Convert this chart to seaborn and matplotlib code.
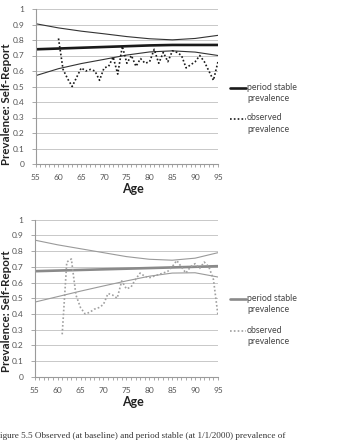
import pandas as pd
import matplotlib.pyplot as plt
import seaborn as sns
from matplotlib.lines import Line2D
from matplotlib.ticker import MultipleLocator

# ages at which the period stable line and its bounds were read
ci_ages = [55, 60, 65, 70, 75, 80, 85, 90, 95]

# top panel
top_stable = [0.740, 0.745, 0.750, 0.755, 0.760, 0.765, 0.768, 0.768, 0.768]
top_upper = [0.905, 0.878, 0.857, 0.840, 0.822, 0.808, 0.801, 0.810, 0.830]
top_lower = [0.570, 0.615, 0.648, 0.675, 0.703, 0.723, 0.730, 0.722, 0.700]
top_obs_ages = list(range(60, 96))
top_obs = [0.81, 0.61, 0.55, 0.50, 0.56, 0.62, 0.60, 0.61, 0.60, 0.54,
           0.62, 0.63, 0.69, 0.58, 0.76, 0.65, 0.70, 0.63, 0.68, 0.65,
           0.66, 0.74, 0.65, 0.72, 0.66, 0.73, 0.72, 0.70, 0.62, 0.64,
           0.66, 0.70, 0.66, 0.60, 0.54, 0.66]

# bottom panel
bot_stable = [0.672, 0.676, 0.680, 0.684, 0.688, 0.692, 0.696, 0.700, 0.704]
bot_upper = [0.870, 0.840, 0.815, 0.790, 0.765, 0.748, 0.742, 0.755, 0.790]
bot_lower = [0.475, 0.510, 0.545, 0.578, 0.610, 0.640, 0.660, 0.662, 0.635]
bot_obs_ages = list(range(61, 96))
bot_obs = [0.27, 0.73, 0.75, 0.52, 0.44, 0.40, 0.41, 0.43, 0.44, 0.46,
           0.53, 0.52, 0.50, 0.61, 0.56, 0.57, 0.62, 0.66, 0.64, 0.63,
           0.64, 0.65, 0.66, 0.67, 0.70, 0.74, 0.70, 0.66, 0.70, 0.72,
           0.69, 0.73, 0.70, 0.62, 0.39]

y_ticks = [0, 0.1, 0.2, 0.3, 0.4, 0.5, 0.6, 0.7, 0.8, 0.9, 1]
y_labels = ["0", "0.1", "0.2", "0.3", "0.4", "0.5", "0.6", "0.7", "0.8", "0.9", "1"]
x_ticks = [55, 60, 65, 70, 75, 80, 85, 90, 95]

sns.set_theme(style="white")
plt.rcParams['font.family'] = ['Lato', 'DejaVu Sans']

W, H = 347, 441
fig = plt.figure(figsize=(W / 100, H / 100), dpi=100)
ax1 = fig.add_axes([35.7 / W, 1 - 164 / H, (218 - 35.7) / W, 155 / H])
ax2 = fig.add_axes([34.7 / W, 1 - 376.7 / H, (218 - 34.7) / W, 157 / H])


def draw_panel(ax, stable, upper, lower, obs_ages, obs, main_col, thin_col, obs_col):
    ci = pd.DataFrame({'age': ci_ages, 'stable': stable, 'upper': upper, 'lower': lower})
    ob = pd.DataFrame({'age': obs_ages, 'obs': obs})
    sns.lineplot(data=ci, x='age', y='upper', ax=ax, color=thin_col, linewidth=0.8)
    sns.lineplot(data=ci, x='age', y='lower', ax=ax, color=thin_col, linewidth=0.8)
    sns.lineplot(data=ci, x='age', y='stable', ax=ax, color=main_col, linewidth=1.9)
    sns.lineplot(data=ob, x='age', y='obs', ax=ax, color=obs_col, linewidth=1.2,
                 linestyle=(0, (1, 1.3)))
    ax.set_xlim(55, 95)
    ax.set_ylim(0, 1)
    ax.set_yticks(y_ticks)
    ax.set_yticklabels(y_labels)
    ax.set_xticks(x_ticks)
    ax.xaxis.set_minor_locator(MultipleLocator(1))
    ax.tick_params(axis='y', left=True, direction='out', length=3, width=0.6,
                   color='#9a9a9a', labelsize=6, labelcolor='#555555', pad=5)
    ax.tick_params(axis='x', which='both', direction='out', length=2.5, width=0.6,
                   color='#9a9a9a', bottom=True, labelsize=6, labelcolor='#555555', pad=5)
    ax.grid(axis='y', color='#c8c8c8', linewidth=0.7)
    ax.grid(axis='x', visible=False)
    for s in ['top', 'right']:
        ax.spines[s].set_visible(False)
    for s in ['left', 'bottom']:
        ax.spines[s].set_color('#9a9a9a')
        ax.spines[s].set_linewidth(0.8)
    ax.set_xlabel('')
    ax.set_ylabel('')


draw_panel(ax1, top_stable, top_upper, top_lower, top_obs_ages, top_obs,
           '#1a1a1a', '#333333', '#1a1a1a')
draw_panel(ax2, bot_stable, bot_upper, bot_lower, bot_obs_ages, bot_obs,
           '#8a8a8a', '#9a9a9a', '#a0a0a0')

# axis titles
for yc, xc_age in [(104, 189), (311.5, 401.7)]:
    fig.text(7 / W, 1 - yc / H, 'Prevalence: Self-Report', rotation=90,
             ha='center', va='center', fontsize=8.3, fontweight='bold', color='#222222')
    fig.text(132.5 / W, 1 - xc_age / H, 'Age', ha='center', va='center',
             fontsize=9, fontweight='bold', color='#222222')

# legends
legend_rows = [
    (88, 118.5, '#1a1a1a', '#1a1a1a'),
    (299, 331, '#8a8a8a', '#a0a0a0'),
]
for y_stable, y_obs, c_stable, c_obs in legend_rows:
    fig.add_artist(Line2D([230 / W, 245.5 / W], [1 - y_stable / H] * 2,
                          color=c_stable, linewidth=1.9))
    fig.add_artist(Line2D([230 / W, 245.5 / W], [1 - y_obs / H] * 2,
                          color=c_obs, linewidth=1.2, linestyle=(0, (1, 1.3))))
    fig.text(247 / W, 1 - (y_stable - 5) / H, 'period stable\nprevalence', ha='left', va='top',
             fontsize=6.3, color='#444444', linespacing=1.3)
    fig.text(247 / W, 1 - (y_obs - 5) / H, 'observed\nprevalence', ha='left', va='top',
             fontsize=6.3, color='#444444', linespacing=1.3)

# caption (cut off at the left and bottom edges in the source)
fig.text(-5 / W, 1 - 436 / H,
         'Figure 5.5 Observed (at baseline) and period stable (at 1/1/2000) prevalence of',
         ha='left', va='center', fontsize=6.6, family=['Liberation Serif', 'DejaVu Serif'],
         color='#333333')

fig.savefig('out.png', dpi=100, facecolor='white')
